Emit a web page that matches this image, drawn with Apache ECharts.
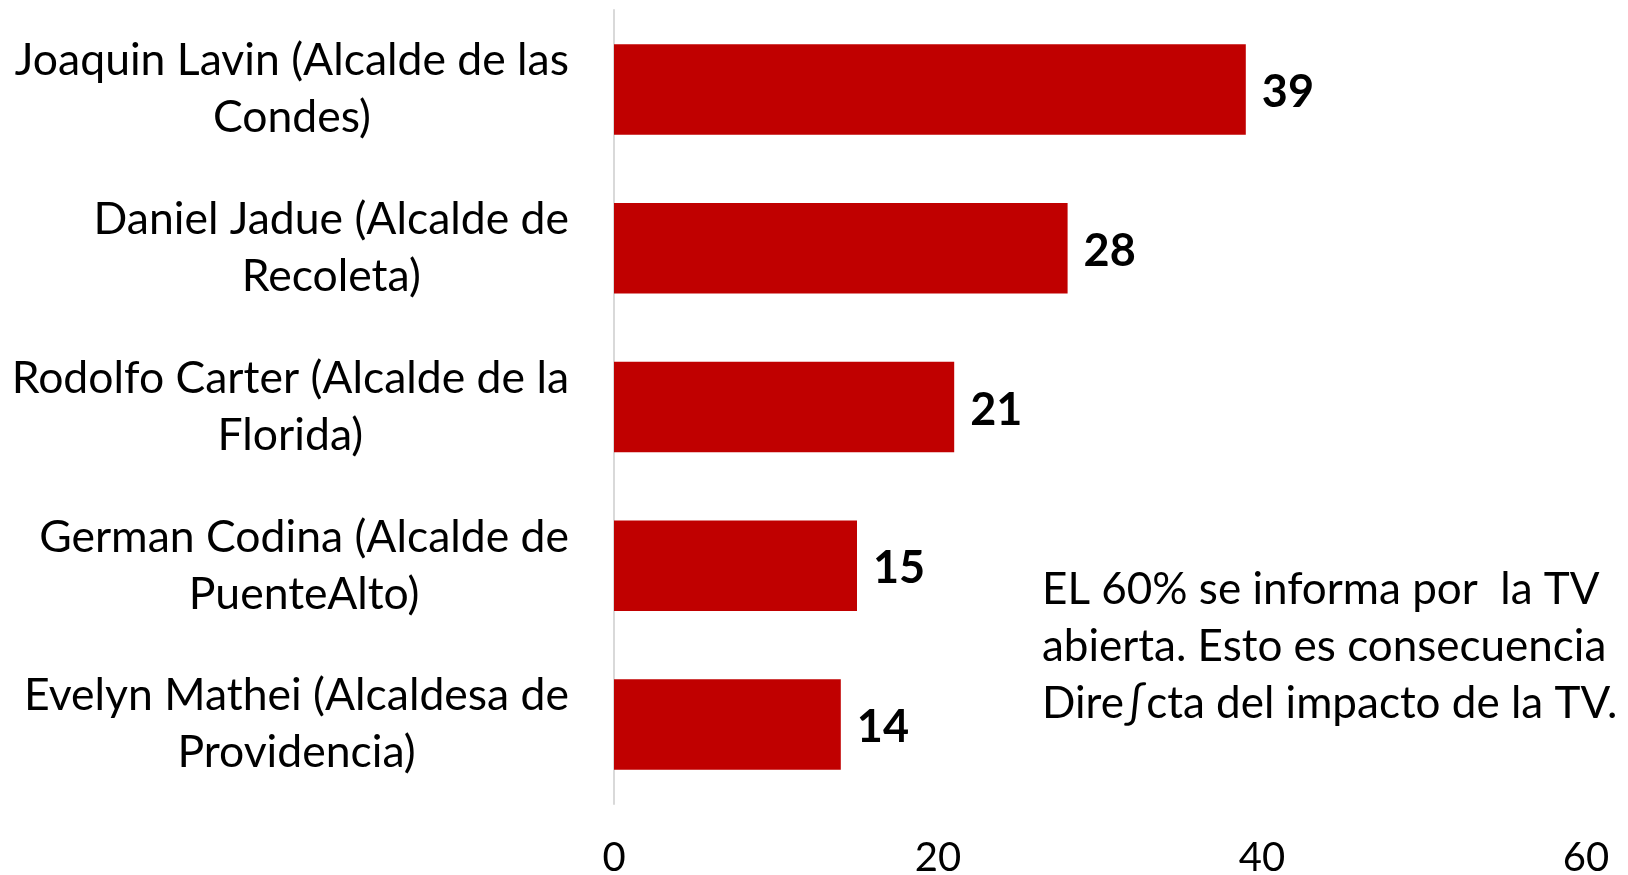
<!DOCTYPE html>
<html>
<head>
<meta charset="utf-8">
<script src="https://cdn.jsdelivr.net/npm/echarts@6/dist/echarts.min.js"></script>
<style>
  html, body { margin: 0; padding: 0; background: #fff; }
  #chart { width: 1628px; height: 875px; }
</style>
</head>
<body>
<div id="chart"></div>
<script>
// Alcaldes más mencionados
const categories = [
  'Joaquin Lavin (Alcalde de las\nCondes)',
  'Daniel Jadue (Alcalde de\nRecoleta)',
  'Rodolfo Carter (Alcalde de la\nFlorida)',
  'German Codina (Alcalde de\nPuenteAlto)',
  'Evelyn Mathei (Alcaldesa de\nProvidencia)'
];
const values = [39, 28, 21, 15, 14];
const xTicks = [0, 20, 40, 60];
const note = 'EL 60% se informa por  la TV\nabierta. Esto es consecuencia\nDire\u222Bcta del impacto de la TV.';

const FONT = 'Lato, "Open Sans", sans-serif';
const chart = echarts.init(document.getElementById('chart'));

chart.setOption({
  animation: false,
  grid: {
    left: 614, right: 42, top: 10, bottom: 71,
    containLabel: false,
    outerBoundsMode: 'none'
  },
  xAxis: {
    type: 'value',
    min: xTicks[0],
    max: xTicks[xTicks.length - 1],
    interval: xTicks[1] - xTicks[0],
    axisLine: { show: false },
    axisTick: { show: false },
    splitLine: { show: false },
    axisLabel: { color: '#000', fontFamily: FONT, fontSize: 40, margin: 34 }
  },
  yAxis: {
    type: 'category',
    inverse: true,
    data: categories,
    axisLine: { show: true, lineStyle: { color: '#d9d9d9', width: 2 } },
    axisTick: { show: false },
    axisLabel: {
      color: '#000', fontFamily: FONT, fontSize: 44.5, lineHeight: 57,
      margin: 45, align: 'right',
      // each line centred inside the right-aligned block
      formatter: v => v.split('\n').map(s => '{c|' + s + '}').join('\n'),
      rich: {
        c: { align: 'center', fontFamily: FONT, fontSize: 44.5, lineHeight: 57, color: '#000' }
      }
    }
  },
  series: [{
    type: 'bar',
    data: values,
    barWidth: '57%',
    itemStyle: { color: '#c00000' },
    label: {
      show: true, position: 'right', distance: 16, offset: [0, 3],
      color: '#000', fontFamily: FONT, fontSize: 45, fontWeight: 'bold'
    }
  }],
  graphic: [{
    type: 'text',
    left: 1042,
    top: 561,
    style: {
      text: note,
      fill: '#000',
      font: '44px ' + FONT,
      lineHeight: 57
    }
  }]
});
</script>
</body>
</html>
